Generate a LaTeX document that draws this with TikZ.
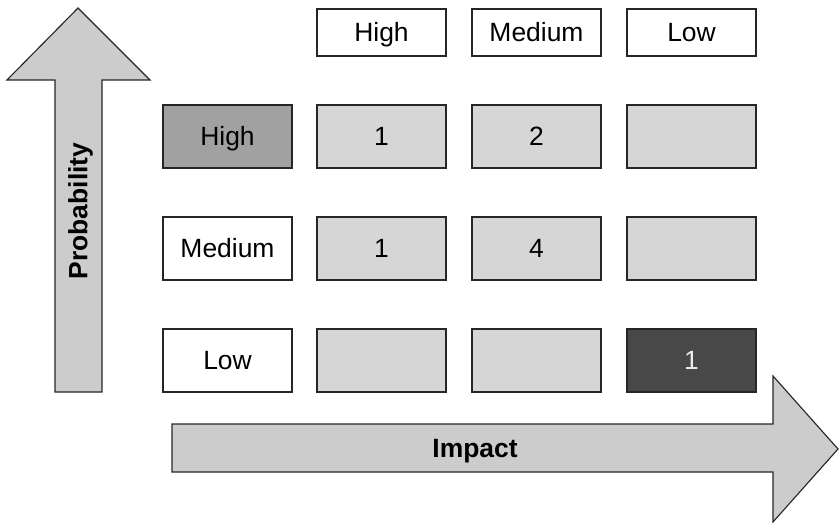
\documentclass[tikz,border=0pt]{standalone}
\usepackage{fontspec}
\setmainfont{Liberation Sans}
\usepackage{tikz}
\usetikzlibrary{positioning}
\definecolor{axisgray}{HTML}{CCCCCC}
\definecolor{cellgray}{HTML}{D6D6D6}
\definecolor{midgray}{HTML}{A1A1A1}
\definecolor{darkgray}{HTML}{484848}

\begin{document}
\begin{tikzpicture}[
    x=0.025cm, y=-0.025cm,
    every node/.style={font=\fontsize{18.8}{22}\selectfont,
                       text height=13.5pt, text depth=0pt},
    box/.style={draw=black!85, line width=0.9pt, inner sep=0pt,
                minimum width=3.225cm, minimum height=1.575cm},
    hdr/.style={box, fill=white, minimum height=1.175cm},
    lbl/.style={box, fill=white},
    cell/.style={box, fill=cellgray},
    hot/.style={box, fill=midgray},
    worst/.style={box, fill=darkgray, text=white!92!black},
    axis/.style={draw=black!85, line width=0.8pt, fill=axisgray},
    axislbl/.style={font=\fontsize{18.8}{22}\selectfont\bfseries},
]
    \useasboundingbox (0,0) rectangle (839,523);

    % Axis arrows.
    \draw[axis] (78,8) -- (150,80) -- (102,80) -- (102,392) -- (55,392)
        -- (55,80) -- (7,80) -- cycle;
    \draw[axis] (838,449) -- (773,522) -- (773,472) -- (172,472) -- (172,424)
        -- (773,424) -- (773,376) -- cycle;
    \node[axislbl, rotate=90] (prob) at (78,211) {Probability};
    \node[axislbl] (impact) at (475,448) {Impact};

    % Impact header.
    \node[hdr] (hHigh) at (381.5,32.5) {High};
    \node[hdr] (hMed)  at (536.5,32.5) {Medium};
    \node[hdr] (hLow)  at (691.5,32.5) {Low};

    % Probability labels.
    \node[hot] (pHigh) at (227.5,136.5) {High};
    \node[lbl] (pMed)  at (227.5,248.5) {Medium};
    \node[lbl] (pLow)  at (227.5,360.5) {Low};

    % Matrix cells.
    \node[cell]  (c11) at (381.5,136.5) {1};
    \node[cell]  (c12) at (536.5,136.5) {2};
    \node[cell]  (c13) at (691.5,136.5) {};
    \node[cell]  (c21) at (381.5,248.5) {1};
    \node[cell]  (c22) at (536.5,248.5) {4};
    \node[cell]  (c23) at (691.5,248.5) {};
    \node[cell]  (c31) at (381.5,360.5) {};
    \node[cell]  (c32) at (536.5,360.5) {};
    \node[worst] (c33) at (691.5,360.5) {1};
\end{tikzpicture}
\end{document}
